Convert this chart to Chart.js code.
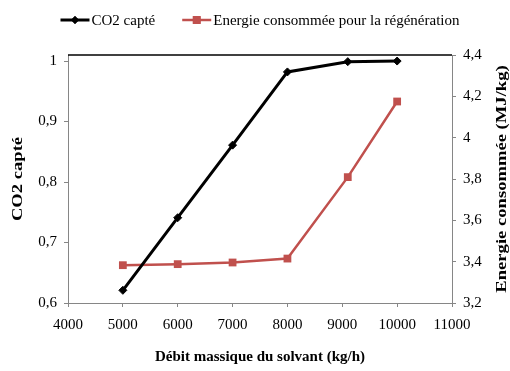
<!DOCTYPE html>
<html>
<head>
<meta charset="utf-8">
<script src="https://cdn.jsdelivr.net/npm/chart.js@4/dist/chart.umd.min.js"></script>
<style>
  html, body { margin: 0; padding: 0; background: #fff; }
  #wrap { width: 510px; height: 371px; }
</style>
</head>
<body>
<div id="wrap"><canvas id="LineChart" width="510" height="371"></canvas></div>
<script>
// values
const debit = [5000, 6000, 7000, 8000, 9100, 10000];
const co2Capte = [0.621, 0.741, 0.861, 0.982, 0.999, 1.0];
const energie = [3.383, 3.388, 3.396, 3.415, 3.809, 4.175];

const seriesLabels = ["CO2 capté", "Energie consommée pour la régénération"];
const xTitle = "Débit massique du solvant (kg/h)";
const yTitle = "CO2 capté";
const y2Title = "Energie consommée (MJ/kg)";

const RED = "#C0504D";
const AXIS = "#868686";
const SERIF = "'Liberation Serif', 'Times New Roman', serif";

const toPoints = (xs, ys) => xs.map((x, i) => ({ x: x, y: ys[i] }));
const comma = v => String(Number(v.toFixed(1))).replace(".", ",");

// legend, top border and the two vertical titles
const decor = {
  id: "decor",
  afterDraw(chart) {
    const ctx = chart.ctx;
    const area = chart.chartArea;
    ctx.save();

    // black frame line along the top
    ctx.strokeStyle = "#000";
    ctx.lineWidth = 1.3;
    ctx.beginPath();
    ctx.moveTo(area.left, area.top);
    ctx.lineTo(area.right, area.top);
    ctx.stroke();

    // legend
    ctx.font = "15px " + SERIF;
    ctx.textBaseline = "middle";
    ctx.textAlign = "left";
    const lineLen = 29, gap = 2, between = 27;
    const sets = chart.data.datasets;
    const widths = sets.map(d => ctx.measureText(d.label).width);
    let total = 0;
    widths.forEach((w, i) => { total += lineLen + gap + w + (i ? between : 0); });
    let x = (area.left + area.right) / 2 - total / 2;
    const y = 20;
    sets.forEach((d, i) => {
      ctx.strokeStyle = d.borderColor;
      ctx.lineWidth = d.borderWidth;
      ctx.beginPath();
      ctx.moveTo(x, y);
      ctx.lineTo(x + lineLen, y);
      ctx.stroke();
      ctx.fillStyle = d.pointBackgroundColor;
      Chart.helpers.drawPoint(ctx, {
        pointStyle: d.pointStyle, radius: d.pointRadius, borderWidth: 0, rotation: 0
      }, x + lineLen / 2, y);
      ctx.fill();
      ctx.fillStyle = "#000";
      ctx.fillText(d.label, x + lineLen + gap, y + 1);
      x += lineLen + gap + widths[i] + between;
    });

    // vertical axis titles (stretched like the reference)
    ctx.font = "bold 15px " + SERIF;
    ctx.textAlign = "center";
    const cy = (area.top + area.bottom) / 2;
    [[18, yTitle], [502, y2Title]].forEach(([tx, text]) => {
      ctx.save();
      ctx.translate(tx, cy);
      ctx.rotate(-Math.PI / 2);
      ctx.scale(1.24, 1);
      ctx.fillText(text, 0, 0);
      ctx.restore();
    });
    ctx.restore();
  }
};

document.addEventListener("DOMContentLoaded", () => {
  const ctx = document.getElementById("LineChart").getContext("2d");
  Chart.defaults.font.family = SERIF;
  Chart.defaults.color = "#000";

  new Chart(ctx, {
    type: "scatter",
    data: {
      datasets: [
        {
          label: seriesLabels[0],
          data: toPoints(debit, co2Capte),
          yAxisID: "y",
          showLine: true,
          borderColor: "#000",
          backgroundColor: "#000",
          pointBackgroundColor: "#000",
          pointBorderColor: "#000",
          borderWidth: 3,
          pointStyle: "rectRot",
          pointRadius: 4,
          pointBorderWidth: 1,
          tension: 0,
          order: 1,
        },
        {
          label: seriesLabels[1],
          data: toPoints(debit, energie),
          yAxisID: "y2",
          showLine: true,
          borderColor: RED,
          backgroundColor: RED,
          pointBackgroundColor: RED,
          pointBorderColor: RED,
          borderWidth: 2.5,
          pointStyle: "rect",
          pointRadius: 5.5,
          pointBorderWidth: 0,
          tension: 0,
          order: 2,
        },
      ],
    },
    options: {
      responsive: false,
      animation: false,
      layout: { padding: { top: 55, left: 0, right: 0, bottom: 0 } },
      plugins: {
        legend: { display: false },
        tooltip: { enabled: false },
      },
      scales: {
        x: {
          type: "linear",
          position: "bottom",
          min: 4000,
          max: 11000,
          afterFit: s => { s.height = 68; },
          border: { color: AXIS, width: 1 },
          grid: { display: true, drawOnChartArea: false, drawTicks: true, tickLength: 4, color: AXIS },
          ticks: { stepSize: 1000, padding: 9, font: { size: 15 }, callback: v => String(v), maxRotation: 0 },
          title: {
            display: true,
            text: xTitle,
            font: { size: 15, weight: "bold" },
            padding: { top: 0, bottom: 5 },
          },
        },
        y: {
          position: "left",
          min: 0.6,
          max: 1.01,
          afterFit: s => { s.width = 68; },
          border: { color: AXIS, width: 1 },
          grid: { display: true, drawOnChartArea: false, drawTicks: true, tickLength: 4, color: AXIS },
          ticks: { stepSize: 0.1, includeBounds: false, padding: 7, font: { size: 15 }, callback: comma },
        },
        y2: {
          position: "right",
          min: 3.2,
          max: 4.4,
          afterFit: s => { s.width = 58; },
          border: { color: AXIS, width: 1 },
          grid: { display: true, drawOnChartArea: false, drawTicks: true, tickLength: 4, color: AXIS },
          ticks: { stepSize: 0.2, padding: 7, font: { size: 15 }, callback: comma },
        },
      },
    },
    plugins: [decor],
  });
});
</script>
</body>
</html>
